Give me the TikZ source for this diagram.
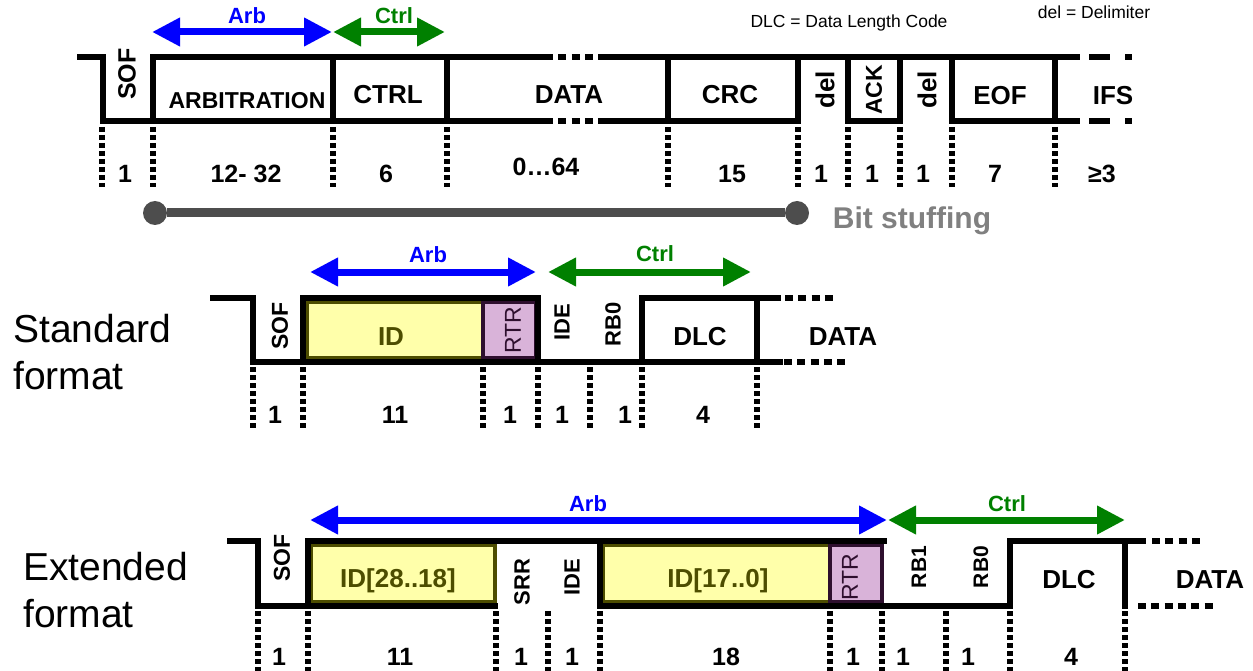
\documentclass[tikz,border=0pt]{standalone}
\usepackage{fontspec}
\setmainfont{Liberation Sans}
\usetikzlibrary{arrows.meta,positioning}
\definecolor{arbblue}{HTML}{0000FF}
\definecolor{ctrlgreen}{HTML}{008000}
\definecolor{idyellow}{HTML}{FFFFAA}
\definecolor{idolive}{HTML}{4D4D00}
\definecolor{rtrpurple}{HTML}{D9B3D9}
\definecolor{rtrdark}{HTML}{2E0F2E}
\definecolor{stuffgray}{HTML}{4D4D4D}

\begin{document}
\begin{tikzpicture}[x=1pt, y=-1pt,
    wave/.style={line width=6.5pt, line cap=rect, line join=miter},
    dotwave/.style={line width=6.5pt, dash pattern=on 8pt off 5.3pt},
    tick/.style={line width=5.5pt, dash pattern=on 5pt off 3pt},
    fld/.style={font=\bfseries\fontsize{26}{26}\selectfont, inner sep=0pt},
    vfld/.style={rotate=90, font=\bfseries\fontsize{23}{23}\selectfont, inner sep=0pt},
    num/.style={font=\bfseries\fontsize{25}{25}\selectfont, inner sep=0pt},
    lbl/.style={font=\bfseries\fontsize{22}{22}\selectfont, inner sep=0pt},
    fmt/.style={font=\fontsize{39}{47}\selectfont, align=left, anchor=north west, inner sep=0pt},
    note/.style={font=\fontsize{17.5}{17.5}\selectfont, inner sep=0pt},
    span/.style={line width=7pt, {Triangle[length=28pt,width=27pt]}-{Triangle[length=28pt,width=27pt]}},
    idbox/.style={fill=idyellow, draw=idolive, line width=3.5pt},
    rtrbox/.style={fill=rtrpurple, draw=rtrdark, line width=3.5pt}
  ]
  \useasboundingbox (0,0) rectangle (1253,671);

  % ---------- general frame ----------
  \node[note] (dlcnote) at (849,23) {DLC = Data Length Code};
  \node[note] (delnote) at (1094,12) {del = Delimiter};

  \coordinate (arbA) at (152,32);  \coordinate (arbB) at (332,32);
  \coordinate (ctlA) at (333,32);  \coordinate (ctlB) at (445,32);
  \draw[span, arbblue] (arbA) -- (arbB);
  \draw[span, ctrlgreen] (ctlA) -- (ctlB);
  \node[lbl, arbblue] (arbtop) at (247,16) {Arb};
  \node[lbl, ctrlgreen] (ctltop) at (394,16) {Ctrl};

  \draw[wave] (80,57) -- (103,57) -- (103,121) -- (543,121);
  \draw[wave] (607,121) -- (798,121) -- (798,57);
  \draw[wave] (153,121) -- (153,57) -- (543,57);
  \draw[wave] (607,57) -- (1077,57);
  \draw[dotwave] (545,57) -- (605,57);
  \draw[dotwave] (545,121) -- (605,121);
  \foreach \x in {333,447,668,1055} \draw[wave] (\x,57) -- (\x,121);
  \draw[wave] (848,57) -- (848,121) -- (900,121) -- (900,57);
  \draw[wave] (952,57) -- (952,121) -- (1077,121);
  \draw[line width=6.5pt, dash pattern=on 21pt off 15pt] (1089,57) -- (1132,57);
  \draw[line width=6.5pt, dash pattern=on 21pt off 15pt] (1089,121) -- (1132,121);
  \foreach \x in {102,153,333,447,668,798,848,900,952,1055}
    \draw[tick] (\x,127) -- (\x,187);

  \node[vfld, font=\bfseries\fontsize{25}{25}\selectfont] (sof) at (127,74) {SOF};
  \node[fld, font=\bfseries\fontsize{23}{23}\selectfont] (arbit) at (247,101) {ARBITRATION};
  \node[fld] (ctrl) at (388,95) {CTRL};
  \node[fld] (data) at (569,95) {DATA};
  \node[fld] (crc) at (730,95) {CRC};
  \node[vfld, font=\bfseries\fontsize{26}{26}\selectfont] (del1) at (825,90) {del};
  \node[vfld] (ack) at (874,90) {ACK};
  \node[vfld, font=\bfseries\fontsize{26}{26}\selectfont] (del2) at (927,90) {del};
  \node[fld] (eof) at (1000,96) {EOF};
  \node[fld] (ifs) at (1113,96) {IFS};

  \foreach \x/\t [count=\i] in {125/1, 246/12- 32, 386/6, 732/15, 821/1, 872/1, 923/1, 995/7}
    \node[num] (tn\i) at (\x,174) {\t};
  \node[num] (tdata) at (546,167) {0…64};
  \node[num] (tifs) at (1102,174) {≥3};

  \node[circle, fill=stuffgray, minimum size=24pt, inner sep=0pt] (bsA) at (155,213) {};
  \node[circle, fill=stuffgray, minimum size=24pt, inner sep=0pt] (bsB) at (797,213) {};
  \draw[stuffgray, line width=9pt] (bsA) -- (bsB);
  \node[font=\bfseries\fontsize{30}{30}\selectfont, text=gray, inner sep=0pt] (bstuff) at (912,221) {Bit stuffing};

  % ---------- standard format ----------
  \node[fmt] (stdname) at (13,314) {Standard\\format};

  \coordinate (sarbA) at (310,272);  \coordinate (sarbB) at (536,272);
  \coordinate (sctlA) at (548,272);  \coordinate (sctlB) at (751,272);
  \draw[span, arbblue] (sarbA) -- (sarbB);
  \draw[span, ctrlgreen] (sctlA) -- (sctlB);
  \node[lbl, arbblue] (sarb) at (428,255) {Arb};
  \node[lbl, ctrlgreen] (sctl) at (655,254) {Ctrl};

  \draw[idbox] (307,302) rectangle (483,358);
  \draw[rtrbox] (483,302) rectangle (536,358);
  \draw[wave] (213,298) -- (253,298) -- (253,362) -- (780,362);
  \draw[wave] (303,362) -- (303,298) -- (538,298) -- (538,362);
  \draw[wave] (642,362) -- (642,298) -- (778,298);
  \draw[wave] (757,298) -- (757,362);
  \draw[dotwave] (785,298) -- (835,298);
  \draw[dotwave] (784,362) -- (848,362);
  \foreach \x in {253,303,483,538,590,642,757}
    \draw[tick] (\x,367) -- (\x,428);

  \node[vfld] (ssof) at (280,326) {SOF};
  \node[fld, text=idolive] (sid) at (391,337) {ID};
  \node[vfld, font=\fontsize{23}{23}\selectfont, text=rtrdark] (srtr) at (513,330) {RTR};
  \node[vfld, font=\bfseries\fontsize{22}{22}\selectfont] (side) at (562,322) {IDE};
  \node[vfld, font=\bfseries\fontsize{22}{22}\selectfont] (srb0) at (613,324) {RB0};
  \node[fld] (sdlc) at (700,337) {DLC};
  \node[fld] (sdata) at (843,337) {DATA};

  \foreach \x/\t [count=\i] in {275/1, 395/11, 510/1, 562/1, 625/1, 703/4}
    \node[num] (sn\i) at (\x,415) {\t};

  % ---------- extended format ----------
  \node[fmt] (extname) at (23,552) {Extended\\format};

  \coordinate (earbA) at (310,520);  \coordinate (earbB) at (887,520);
  \coordinate (ectlA) at (888,520);  \coordinate (ectlB) at (1125,520);
  \draw[span, arbblue] (earbA) -- (earbB);
  \draw[span, ctrlgreen] (ectlA) -- (ectlB);
  \node[lbl, arbblue] (earb) at (588,504) {Arb};
  \node[lbl, ctrlgreen] (ectl) at (1007,504) {Ctrl};

  \draw[idbox] (311,545) rectangle (495,602);
  \draw[idbox] (603,545) rectangle (830,602);
  \draw[rtrbox] (830,545) rectangle (882,602);
  \draw[wave] (230,541) -- (258,541) -- (258,606) -- (495,606);
  \draw[wave] (308,606) -- (308,541) -- (884,541);
  \draw[wave] (600,541) -- (600,606) -- (1010,606) -- (1010,541) -- (1143,541);
  \draw[wave] (1125,541) -- (1125,606);
  \draw[dotwave] (1152,541) -- (1204,541);
  \draw[dotwave] (1138,606) -- (1217,606);
  \foreach \x in {258,308,496,548,600,830,882,946,1010,1125}
    \draw[tick] (\x,611) -- (\x,671);

  \node[vfld] (esof) at (282,558) {SOF};
  \node[fld, text=idolive] (eidh) at (398,581) {ID[28..18]};
  \node[vfld, font=\bfseries\fontsize{22}{22}\selectfont] (esrr) at (522,582) {SRR};
  \node[vfld, font=\bfseries\fontsize{22}{22}\selectfont] (eide) at (572,577) {IDE};
  \node[fld, text=idolive] (eidl) at (718,581) {ID[17..0]};
  \node[vfld, font=\fontsize{23}{23}\selectfont, text=rtrdark] (ertr) at (850,577) {RTR};
  \node[vfld, font=\bfseries\fontsize{21}{21}\selectfont] (erb1) at (919,567) {RB1};
  \node[vfld, font=\bfseries\fontsize{21}{21}\selectfont] (erb0) at (981,567) {RB0};
  \node[fld] (edlc) at (1069,580) {DLC};
  \node[fld] (edata) at (1210,580) {DATA};

  \foreach \x/\t [count=\i] in {279/1, 400/11, 521/1, 572/1, 726/18, 853/1, 903/1, 968/1, 1071/4}
    \node[num] (en\i) at (\x,657) {\t};
\end{tikzpicture}
\end{document}
